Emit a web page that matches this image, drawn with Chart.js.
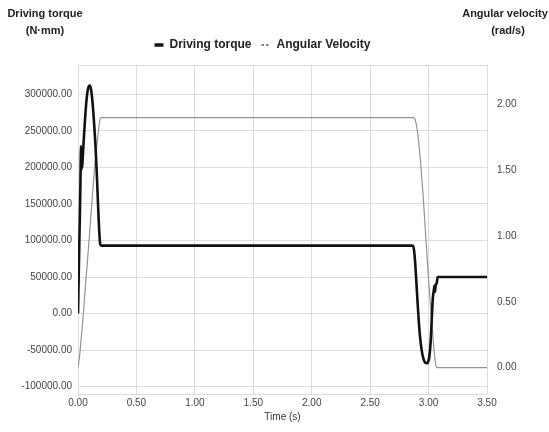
<!DOCTYPE html>
<html>
<head>
<meta charset="utf-8">
<script src="https://cdn.jsdelivr.net/npm/chart.js@4.4.0/dist/chart.umd.min.js"></script>
<style>
html,body{margin:0;padding:0;background:#fff;}
#wrap{position:relative;width:549px;height:432px;}
</style>
</head>
<body>
<div id="wrap"><canvas id="c" width="549" height="432"></canvas></div>
<script>
// Driving torque (N·mm) vs time (s)
const torqueTime = [0, 0.01, 0.02, 0.026, 0.03, 0.033, 0.036, 0.04, 0.05, 0.06, 0.07, 0.08, 0.09, 0.1, 0.11, 0.12, 0.13, 0.14, 0.15, 0.16, 0.17, 0.18, 0.19, 0.2,
  2.866, 2.876, 2.886, 2.896, 2.906, 2.916, 2.926, 2.938, 2.95, 2.962, 2.975, 2.988, 2.998, 3.008, 3.018, 3.028, 3.036, 3.045, 3.05, 3.055, 3.06, 3.07, 3.078, 3.5];
const torqueValues = [0, 85000, 170000, 229000, 196000, 226000, 200000, 212000, 240000, 265000, 287000, 302000, 310000, 312000, 308000, 296000, 278000, 255000, 228000, 195000, 155000, 118000, 95000, 93000,
  93000, 86000, 68000, 42000, 15000, -10000, -30000, -47000, -58000, -64500, -67500, -68000, -65500, -57000, -38000, -5000, 20000, 32000, 38000, 30000, 38000, 42000, 50000, 50000];
// Angular velocity (rad/s) vs time (s)
const velTime = [0, 0.015, 0.03, 0.045, 0.06, 0.08, 0.1, 0.12, 0.14, 0.16, 0.175, 0.185, 0.2,
  2.87, 2.89, 2.91, 2.93, 2.95, 2.97, 2.99, 3.01, 3.03, 3.05, 3.06, 3.07, 3.5];
const velValues = [0, 0.1, 0.25, 0.4, 0.58, 0.8, 1.03, 1.27, 1.5, 1.68, 1.8, 1.87, 1.9,
  1.9, 1.87, 1.76, 1.58, 1.35, 1.08, 0.8, 0.55, 0.32, 0.1, 0.03, 0, 0];
const xTicks = [0, 0.5, 1, 1.5, 2, 2.5, 3, 3.5];
const torqueTicks = [-100000, -50000, 0, 50000, 100000, 150000, 200000, 250000, 300000];
const velTicks = [0, 0.5, 1, 1.5, 2];
const seriesNames = ['Driving torque', 'Angular Velocity'];

const toXY = (xs, ys) => xs.map((x, i) => ({x: x, y: ys[i]}));
const FONT = "'Liberation Sans', Arial, sans-serif";

const titlePlugin = {
  id: 'titles',
  afterDraw(chart) {
    const ctx = chart.ctx;
    ctx.save();
    ctx.fillStyle = '#222';
    ctx.font = "bold 11px " + FONT;
    ctx.textAlign = 'center';
    ctx.textBaseline = 'middle';
    ctx.fillText('Driving torque', 45, 14);
    ctx.fillText('(N·mm)', 45, 31);
    ctx.fillText('Angular velocity', 505, 14);
    ctx.fillText('(rad/s)', 508, 31);
    ctx.restore();
  }
};

new Chart(document.getElementById('c'), {
  type: 'line',
  data: {
    datasets: [
      {
        label: seriesNames[0],
        data: toXY(torqueTime, torqueValues),
        borderColor: '#111',
        backgroundColor: '#111',
        borderWidth: 2.6,
        pointRadius: 0,
        cubicInterpolationMode: 'monotone',
        yAxisID: 'y'
      },
      {
        label: seriesNames[1],
        data: toXY(velTime, velValues),
        borderColor: '#939393',
        backgroundColor: '#939393',
        borderWidth: 1.2,
        pointRadius: 0,
        cubicInterpolationMode: 'monotone',
        yAxisID: 'y1'
      }
    ]
  },
  options: {
    responsive: false,
    animation: false,
    layout: {padding: {top: 29, left: 0, right: 24, bottom: 0}},
    plugins: {
      legend: {
        display: true,
        position: 'top',
        labels: {
          color: '#222',
          font: {family: FONT, size: 12, weight: 'bold'},
          usePointStyle: true,
          pointStyle: 'line',
          pointStyleWidth: 9,
          padding: 10,
          generateLabels(chart) {
            return chart.data.datasets.map((d, i) => ({
              text: d.label,
              fillStyle: d.borderColor,
              strokeStyle: i === 0 ? '#111' : '#555',
              lineWidth: i === 0 ? 3.5 : 1.5,
              lineDash: i === 0 ? [] : [2.5, 2],
              pointStyle: 'line',
              fontColor: '#222',
              datasetIndex: i,
              hidden: false
            }));
          }
        }
      },
      tooltip: {enabled: false}
    },
    scales: {
      x: {
        type: 'linear',
        min: 0, max: 3.5,
        afterBuildTicks(s) { s.ticks = xTicks.map(v => ({value: v})); },
        afterFit(s) { s.height = 38; },
        ticks: {
          color: '#444',
          font: {family: FONT, size: 10},
          padding: 3,
          maxRotation: 0,
          callback: v => Number(v).toFixed(2)
        },
        grid: {color: '#dcdcdc', lineWidth: 1, drawTicks: false},
        border: {display: false},
        title: {display: true, text: 'Time (s)', color: '#333', font: {family: FONT, size: 10}, padding: {top: 0, bottom: 9}}
      },
      xTop: {
        type: 'linear',
        position: 'top',
        display: true,
        afterFit(s) { s.height = 4; },
        ticks: {display: false},
        grid: {display: false, drawTicks: false},
        border: {display: false}
      },
      y: {
        position: 'left',
        min: -110000, max: 340000,
        afterBuildTicks(s) {
          s.ticks = [{value: -110000}].concat(torqueTicks.map(v => ({value: v}))).concat([{value: 340000}]);
        },
        afterFit(s) { s.width = 78; },
        ticks: {
          color: '#444',
          font: {family: FONT, size: 10},
          padding: 6,
          callback: v => (torqueTicks.includes(v) ? Number(v).toFixed(2) : '')
        },
        grid: {color: '#dcdcdc', lineWidth: 1, drawTicks: false},
        border: {display: false}
      },
      y1: {
        position: 'right',
        min: -0.2, max: 2.3,
        afterBuildTicks(s) { s.ticks = velTicks.map(v => ({value: v})); },
        afterFit(s) { s.width = 38; },
        ticks: {
          color: '#444',
          font: {family: FONT, size: 10},
          padding: 10,
          callback: v => Number(v).toFixed(2)
        },
        grid: {display: false, drawTicks: false},
        border: {display: false}
      }
    }
  },
  plugins: [titlePlugin]
});
</script>
</body>
</html>
